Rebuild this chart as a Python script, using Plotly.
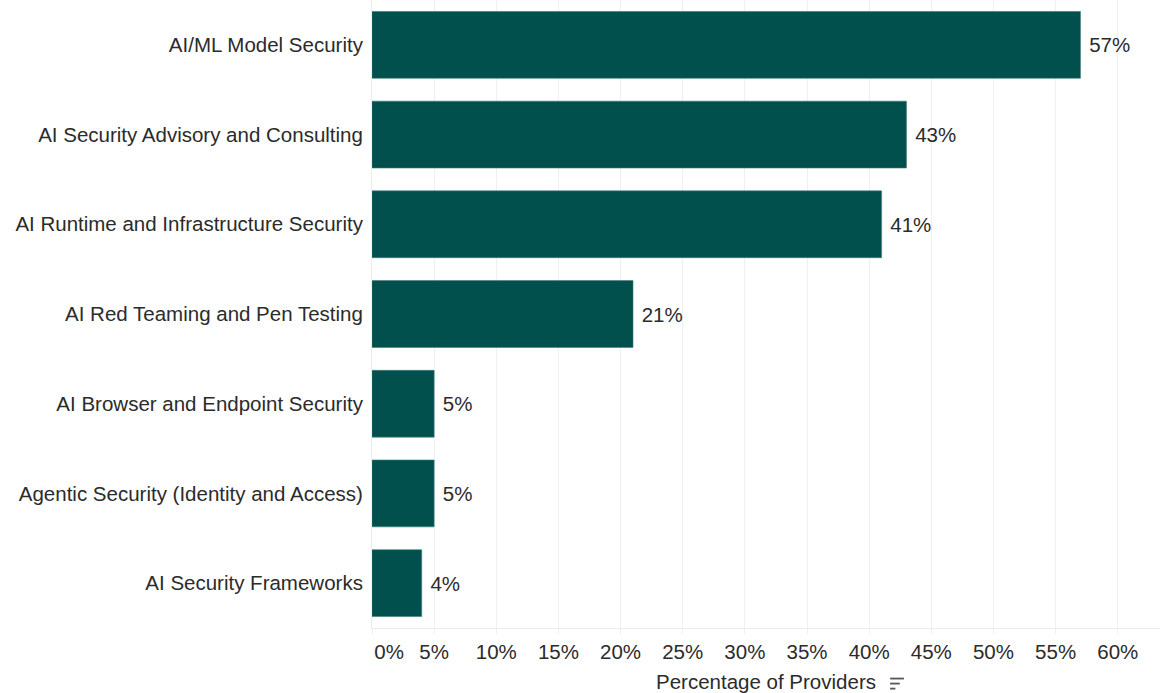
import plotly.graph_objects as go

# Share of providers offering each AI security capability
categories = [
    "AI/ML Model Security",
    "AI Security Advisory and Consulting",
    "AI Runtime and Infrastructure Security",
    "AI Red Teaming and Pen Testing",
    "AI Browser and Endpoint Security",
    "Agentic Security (Identity and Access)",
    "AI Security Frameworks",
]
values = [57, 43, 41, 21, 5, 5, 4]

tick_values = [0, 5, 10, 15, 20, 25, 30, 35, 40, 45, 50, 55, 60]
tick_labels = [f"{v}%" for v in tick_values]
# nudge the first label right so it sits inside the plot like the rest
tick_labels[0] = "\u00a0" * 6 + tick_labels[0]

BAR = "#02504e"
TEXT = "#2b2b2b"
FONT = "Arial, Liberation Sans, sans-serif"
SIZE = 20.5

fig = go.Figure(
    go.Bar(
        x=values,
        y=categories,
        orientation="h",
        marker=dict(color=BAR, line=dict(color="#3f7a78", width=0.6)),
        text=[f"\u00a0{v}%" for v in values],
        textposition="outside",
        textfont=dict(family=FONT, size=SIZE, color=TEXT),
        cliponaxis=False,
        hoverinfo="skip",
    )
)

fig.update_layout(
    width=1160,
    height=693,
    margin=dict(l=372, r=0, t=0, b=65),
    paper_bgcolor="white",
    plot_bgcolor="white",
    bargap=0.255,
    showlegend=False,
    font=dict(family=FONT, size=SIZE, color=TEXT),
)

fig.update_xaxes(
    range=[0, 63.4],
    tickvals=tick_values,
    ticktext=tick_labels,
    tickfont=dict(family=FONT, size=SIZE, color=TEXT),
    showgrid=True,
    gridcolor="#f0f0f0",
    gridwidth=1,
    zeroline=False,
    showline=True,
    linecolor="#ececec",
    linewidth=1,
    ticks="outside",
    ticklen=5,
    tickcolor="#f0f0f0",
    title=dict(
        text="Percentage of Providers",
        font=dict(family=FONT, size=SIZE, color=TEXT),
        standoff=13,
    ),
)

fig.update_yaxes(
    categoryorder="array",
    categoryarray=categories[::-1],
    tickfont=dict(family=FONT, size=SIZE, color=TEXT),
    showgrid=False,
    zeroline=False,
    showline=True,
    linecolor="#ececec",
    linewidth=1,
    ticks="",
    ticklabelstandoff=4,
)

# small "sorted descending" glyph next to the axis title
for i, frac in enumerate([1.0, 0.7, 0.38]):
    y0 = -0.0805 - i * 0.008
    fig.add_shape(
        type="line",
        xref="paper",
        yref="paper",
        x0=0.6575,
        x1=0.6575 + 0.0175 * frac,
        y0=y0,
        y1=y0,
        line=dict(color="#555555", width=1.8),
    )

fig.write_html("out.html")
